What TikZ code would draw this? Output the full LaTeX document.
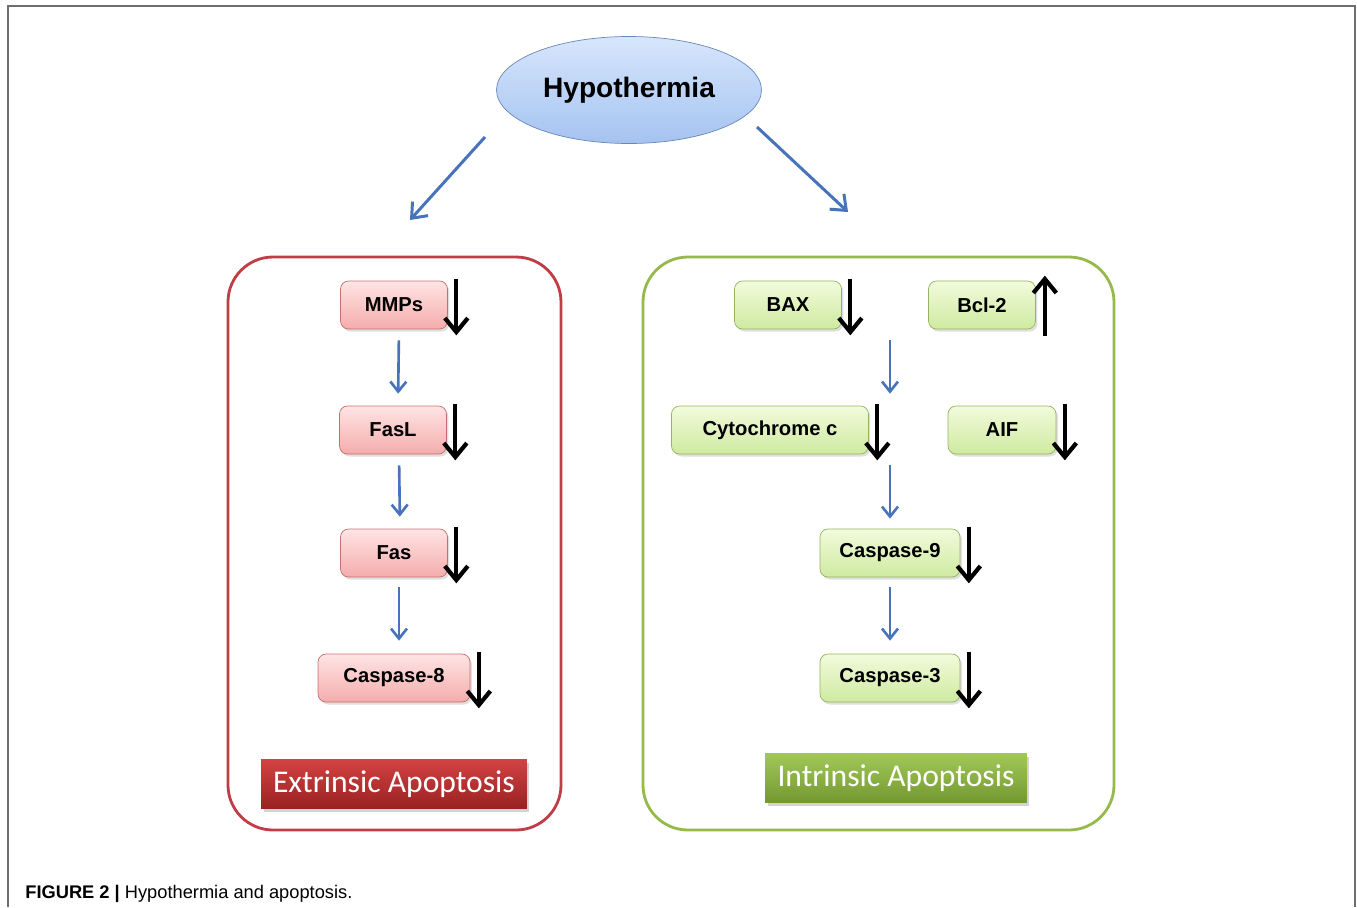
\documentclass[tikz,border=0pt]{standalone}
\usepackage{fontspec}
\setmainfont{Liberation Sans}
\newfontfamily\labelfont{Carlito}
\usetikzlibrary{arrows.meta,shapes.geometric,shadows}
\definecolor{framegray}{RGB}{110,110,110}
\definecolor{flowblue}{RGB}{70,115,185}
\definecolor{extred}{RGB}{192,60,70}
\definecolor{intgreen}{RGB}{150,185,75}
\definecolor{pinktop}{RGB}{255,228,228}
\definecolor{pinkbot}{RGB}{244,172,172}
\definecolor{pinkline}{RGB}{200,110,110}
\definecolor{greentop}{RGB}{242,251,220}
\definecolor{greenbot}{RGB}{206,234,160}
\definecolor{greenline}{RGB}{150,180,95}
\definecolor{bluetop}{RGB}{215,230,252}
\definecolor{bluebot}{RGB}{165,195,240}
\definecolor{blueline}{RGB}{105,135,185}
\definecolor{tagred}{RGB}{205,45,45}
\definecolor{taggreen}{RGB}{145,190,60}

\begin{document}
\begin{tikzpicture}[x=0.02cm, y=-0.02cm,
		pinkbox/.style={draw=pinkline, thin, rounded corners=0.16cm, top color=pinktop, bottom color=pinkbot,
			minimum width=2.14cm, minimum height=0.96cm, font=\bfseries\fontsize{11.5}{12}\selectfont,
			drop shadow={opacity=0.25, shadow xshift=0.04cm, shadow yshift=-0.05cm}},
		greenbox/.style={pinkbox, draw=greenline, top color=greentop, bottom color=greenbot},
		flow/.style={draw=flowblue, line width=1.5pt, -{Straight Barb[length=0.2cm, width=0.32cm]}},
		branch/.style={draw=flowblue, line width=1.7pt, -{Straight Barb[length=0.26cm, width=0.42cm]}},
		dnmark/.style={draw=black, line width=2.4pt, -{Straight Barb[length=0.28cm, width=0.46cm]}},
		panel/.style={line width=1.6pt, rounded corners=0.9cm},
		tag/.style={text=white, font=\labelfont\fontsize{18}{20}\selectfont, minimum height=0.98cm,
			drop shadow={opacity=0.35, shadow xshift=0.05cm, shadow yshift=-0.06cm}}]
	\useasboundingbox (0,0) rectangle (1357,907);
	% outer frame, open at the bottom
	\draw[draw=framegray, line width=1.1pt] (8,907) -- (8,6) -- (1355,6) -- (1355,907);

	% top
	\node[ellipse, draw=blueline, top color=bluetop, bottom color=bluebot, minimum width=5.3cm, minimum height=2.14cm,
		font=\bfseries\fontsize{16}{18}\selectfont] (hypo) at (629,90) {Hypothermia};
	\coordinate (extin) at (410,220);
	\coordinate (intin) at (848,212);
	\draw[branch] (485,137) -- (extin);
	\draw[branch] (757,127) -- (intin);

	% extrinsic pathway
	\draw[panel, draw=extred] (228,257) rectangle (561,830);
	\node[pinkbox] (mmps) at (394,305) {MMPs};
	\node[pinkbox] (fasl) at (393,430) {FasL};
	\node[pinkbox] (fas) at (394,553) {Fas};
	\node[pinkbox, minimum width=3.04cm] (casp8) at (394,678) {Caspase-8};
	\node[tag, top color=tagred!90!white, bottom color=tagred!75!black, minimum width=5.32cm] (extlab) at (394,784) {Extrinsic Apoptosis};
	\draw[flow, shorten <=0.22cm, shorten >=0.24cm] ([xshift=0.1cm]mmps.south) -- ([xshift=0.1cm]fasl.north);
	\draw[flow, shorten <=0.22cm, shorten >=0.24cm] ([xshift=0.12cm]fasl.south) -- ([xshift=0.12cm]fas.north);
	\draw[flow, shorten <=0.2cm, shorten >=0.26cm] ([xshift=0.1cm]fas.south) -- ([xshift=0.1cm]casp8.north);

	% intrinsic pathway
	\draw[panel, draw=intgreen] (643,257) rectangle (1114,830);
	\node[greenbox] (bax) at (788,305) {BAX};
	\node[greenbox] (bcl) at (982,305) {Bcl-2};
	\node[greenbox, minimum width=3.94cm] (cytc) at (770,430) {Cytochrome c};
	\node[greenbox, minimum width=2.16cm] (aif) at (1002,430) {AIF};
	\node[greenbox, minimum width=2.8cm] (casp9) at (890,553) {Caspase-9};
	\node[greenbox, minimum width=2.8cm] (casp3) at (890,678) {Caspase-3};
	\node[tag, top color=taggreen!85!white, bottom color=taggreen!80!black, minimum width=5.24cm] (intlab) at (896,778) {Intrinsic Apoptosis};
	\draw[flow, shorten <=0.22cm, shorten >=0.24cm] (bax.south -| casp9.north) -- (cytc.north -| casp9.north);
	\draw[flow, shorten <=0.22cm, shorten >=0.2cm] (cytc.south -| casp9.north) -- (casp9.north);
	\draw[flow, shorten <=0.2cm, shorten >=0.26cm] (casp9.south) -- (casp3.north);

	% up / down marks
	\foreach \n in {mmps,fasl,fas,casp8,bax,cytc,aif,casp9,casp3}
		\draw[dnmark] ([xshift=0.17cm, yshift=0.04cm]\n.north east) -- ([xshift=0.17cm, yshift=-0.12cm]\n.south east);
	\draw[dnmark] ([xshift=0.18cm, yshift=-0.14cm]bcl.south east) -- ([xshift=0.18cm, yshift=0.1cm]bcl.north east);

	% caption
	\node[anchor=base west, font=\fontsize{10.4}{12}\selectfont, inner sep=0pt] (caption) at (25,898)
		{\textbf{FIGURE 2 |} Hypothermia and apoptosis.};
\end{tikzpicture}
\end{document}
